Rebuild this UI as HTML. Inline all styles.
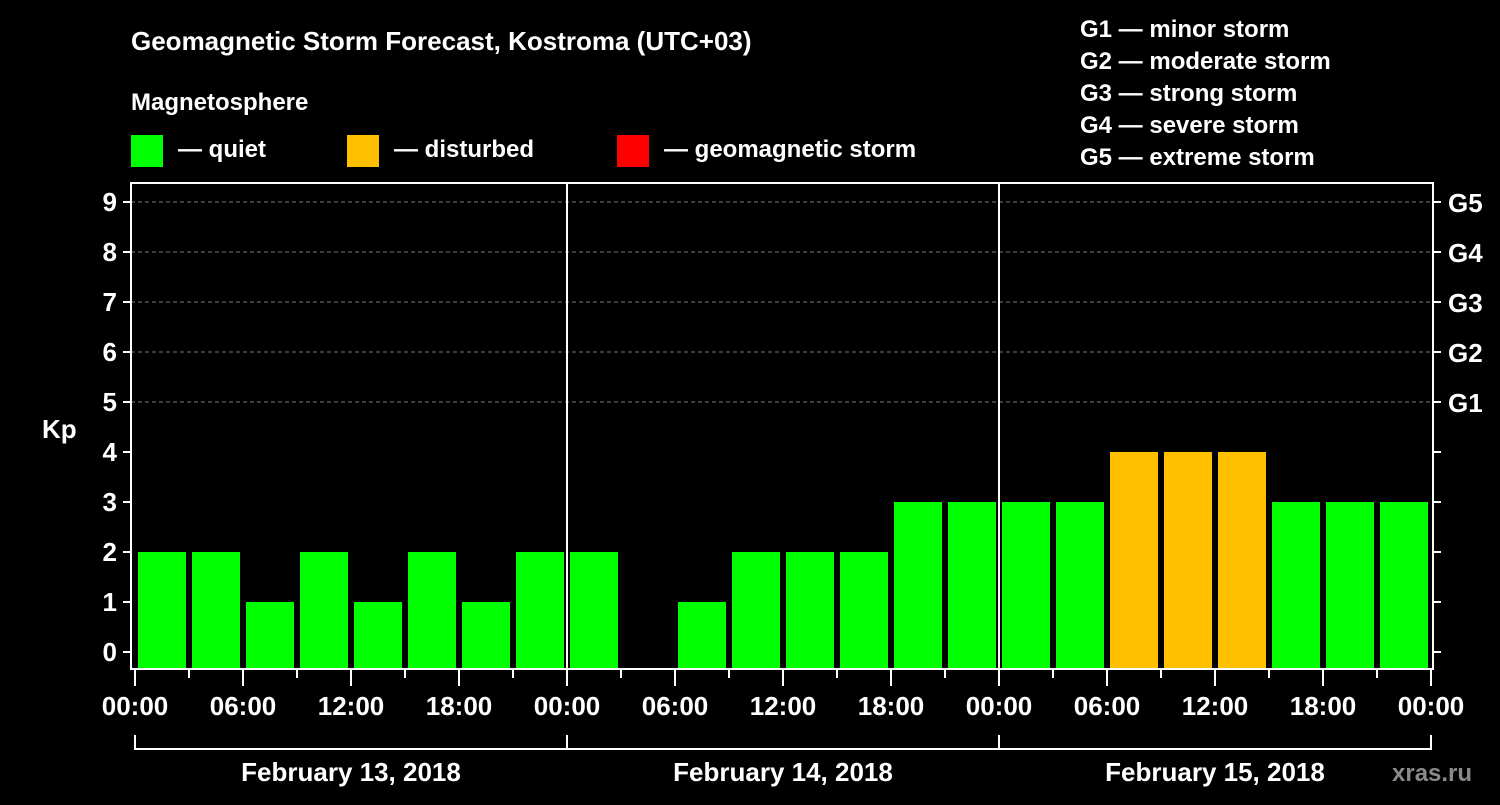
<!DOCTYPE html>
<html><head><meta charset="utf-8"><style>
body{margin:0;background:#000;width:1500px;height:800px;overflow:hidden}
svg text{font-family:"Liberation Sans",Arial,sans-serif;font-weight:bold;fill:#fff}
</style></head><body>
<svg width="1500" height="800">
<text x="131" y="50" font-size="26">Geomagnetic Storm Forecast, Kostroma (UTC+03)</text>
<text x="131" y="110" font-size="24">Magnetosphere</text>
<rect x="131" y="135" width="32" height="32" fill="#00ff00"/>
<text x="178" y="157" font-size="24">— quiet</text>
<rect x="347" y="135" width="32" height="32" fill="#ffc000"/>
<text x="394" y="157" font-size="24">— disturbed</text>
<rect x="617" y="135" width="32" height="32" fill="#ff0000"/>
<text x="664" y="157" font-size="24">— geomagnetic storm</text>
<g font-size="24">
<text x="1080" y="37">G1 — minor storm</text>
<text x="1080" y="69">G2 — moderate storm</text>
<text x="1080" y="101">G3 — strong storm</text>
<text x="1080" y="133">G4 — severe storm</text>
<text x="1080" y="165">G5 — extreme storm</text>
</g>
<text x="42" y="438" font-size="26">Kp</text>
<g id="grid"></g>
<g id="bars"></g>
<g id="axes"></g>
<text x="1392" y="781" font-size="24" fill="#888" style="fill:#8a8a8a">xras.ru</text>
</svg>
<script>
const days=["February 13, 2018","February 14, 2018","February 15, 2018"];
const kpValues=[2,2,1,2,1,2,1,2, 2,0,1,2,2,2,3,3, 3,3,4,4,4,3,3,3];
const timeLabels=["00:00","06:00","12:00","18:00"];
const gLabels=["G1","G2","G3","G4","G5"];
const yTicks=[0,1,2,3,4,5,6,7,8,9];
const NS="http://www.w3.org/2000/svg";
const X0=135,DAYW=432,SLOT=54,PL=131,PR=1433,PT=183,PB=669;
const xs=i=>X0+SLOT*i;
const ys=v=>652-50*v;
function mk(p,tag,a){const e=document.createElementNS(NS,tag);for(const k in a)e.setAttribute(k,a[k]);document.getElementById(p).appendChild(e);return e;}
function col(v){return v>=5?"#ff0000":v>=4?"#ffc000":"#00ff00";}
// grid
for(let v=5;v<=9;v++){const l=mk("grid","line",{x1:PL,x2:PR,y1:ys(v),y2:ys(v),stroke:"#777","stroke-dasharray":"4,3","stroke-width":1});

}
// bars
kpValues.forEach((v,i)=>{if(v<=0)return;const r=mk("bars","rect",{x:xs(i)+3,width:48,y:ys(v),height:668-ys(v),fill:col(v)});

});
// frame
const fr=mk("axes","rect",{x:PL,y:PT,width:PR-PL,height:PB-PT,fill:"none",stroke:"#fff","stroke-width":2});


for(let d=1;d<days.length;d++){const l=mk("axes","line",{x1:X0+DAYW*d,x2:X0+DAYW*d,y1:PT,y2:PB,stroke:"#fff","stroke-width":2});

}
yTicks.forEach(v=>{mk("axes","line",{x1:PL-8,x2:PL,y1:ys(v),y2:ys(v),stroke:"#fff","stroke-width":2});
mk("axes","line",{x1:PR,x2:PR+8,y1:ys(v),y2:ys(v),stroke:"#fff","stroke-width":2});
const t=mk("axes","text",{x:PL-14,y:ys(v)+9,"text-anchor":"end","font-size":26});t.textContent=v;

});
gLabels.forEach((g,i)=>{const t=mk("axes","text",{x:1448,y:ys(5+i)+10,"font-size":26});t.textContent=g;

});
for(let i=0;i<=kpValues.length;i++){const major=i%2==0;mk("axes","line",{x1:xs(i),x2:xs(i),y1:PB,y2:major?686:678,stroke:"#fff","stroke-width":2});
if(major){const t=mk("axes","text",{x:xs(i),y:715,"text-anchor":"middle","font-size":26});t.textContent=timeLabels[(i/2)%4];

}}
days.forEach((d,k)=>{const a=X0+DAYW*k,b=a+DAYW;
mk("axes","path",{d:`M${a},735V749H${b}V735`,fill:"none",stroke:"#fff","stroke-width":2});
const t=mk("axes","text",{x:(a+b)/2,y:781,"text-anchor":"middle","font-size":26});t.textContent=d;

});
</script>
</body></html>
